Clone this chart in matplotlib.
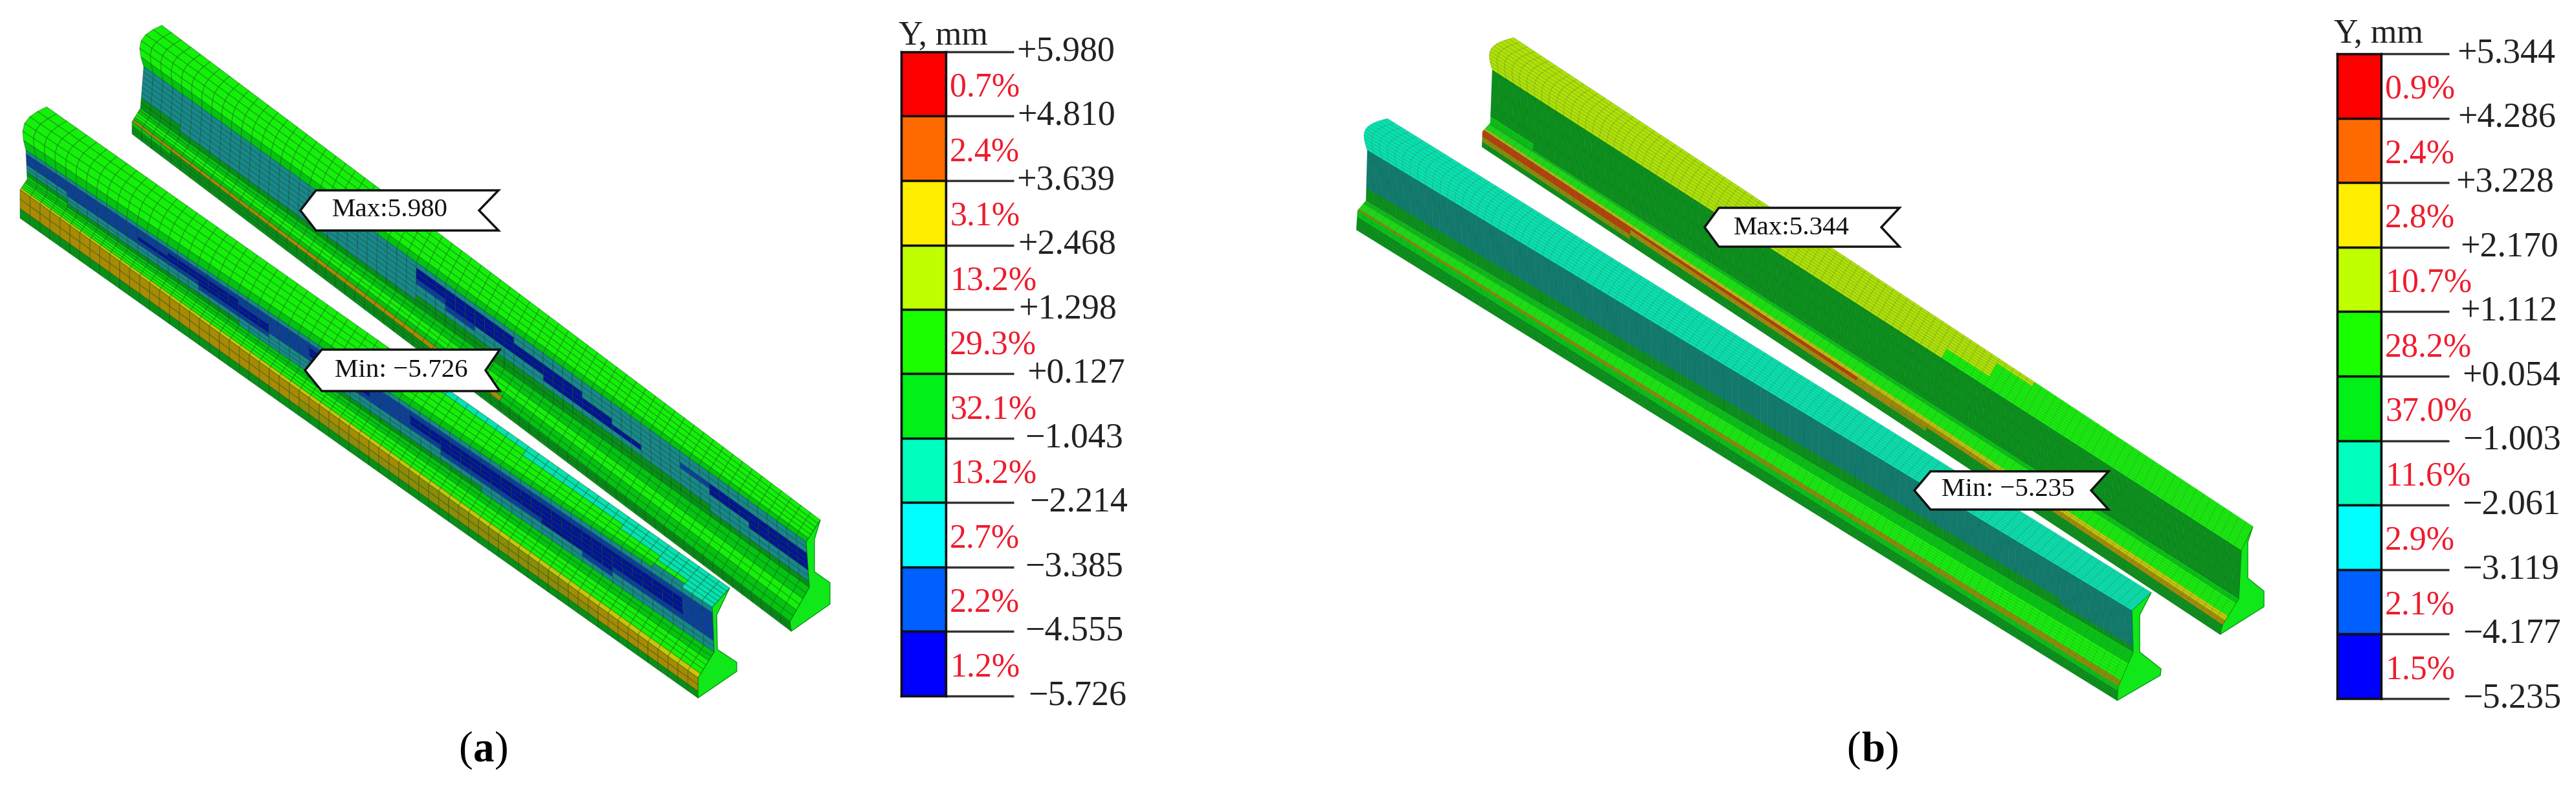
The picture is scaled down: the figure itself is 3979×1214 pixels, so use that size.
#!/usr/bin/env python3
"""Y displacement contours of two rails, panels (a) and (b), with banded legends"""

import matplotlib

matplotlib.use("Agg")

import matplotlib.pyplot as plt
import numpy as np
from matplotlib.collections import PolyCollection
from matplotlib.patches import Polygon

W, H = 3980, 1214

plt.rcParams["font.family"] = ["Liberation Serif", "DejaVu Serif"]

# legend values
LEVELS_A = [5.980, 4.810, 3.639, 2.468, 1.298, 0.127, -1.043, -2.214, -3.385, -4.555, -5.726]
PERCENT_A = ["0.7%", "2.4%", "3.1%", "13.2%", "29.3%", "32.1%", "13.2%", "2.7%", "2.2%", "1.2%"]
LEVELS_B = [5.344, 4.286, 3.228, 2.170, 1.112, 0.054, -1.003, -2.061, -3.119, -4.177, -5.235]
PERCENT_B = ["0.9%", "2.4%", "2.8%", "10.7%", "28.2%", "37.0%", "11.6%", "2.9%", "2.1%", "1.5%"]
BAND_COLORS = [
    "#ff0000", "#ff6a00", "#ffee00", "#bfff00", "#1aff00",
    "#00f018", "#00ffbf", "#00ffff", "#0060ff", "#0000ff",
]

# right edge of each level label, in pixels
LABEL_RIGHT_A = [1722, 1723, 1722, 1724, 1725, 1738, 1735, 1742, 1735, 1736, 1740]
LABEL_RIGHT_B = [3947, 3948, 3945, 3952, 3950, 3955, 3956, 3955, 3953, 3956, 3956]

# contour colours of the rail mesh
CELL_COLORS = {
    "G": "#14f00a", "M": "#04c412", "D": "#069018", "T": "#18888e", "B": "#0c3ea2",
    "N": "#021496", "C": "#06e2b2", "O": "#8c8c08", "Y": "#c4c806", "R": "#c03a04",
    "L": "#b0e204", "E": "#0c7a70", "S": "#a88a04",
}

# one string per mesh band from far head edge to rail base, one letter per 5% of length
REAR_A = [
    "GGGGGGGGGGGGGGGGGGGG", "GGGGGGGGGGGGGGGGGGGG", "GGGGGGGGGGGGGGGGGGGG",
    "GGGGGGGGGGGGGGGGGGGG", "GGGGGGGGGGGGGGGGGGGG", "MMMMMMMMMMMMMMMMMMMM",
    "TTTTTTTTTTTTTTTTTTTT", "TTTTTTTTNNNTTTTTTTTT", "TTTTTTTTNNNNNTTTBNNN",
    "TTTTTTTTBNNNNNTTTNNN", "TTTTTTTTTBTTNNNTTTNN", "TTTTTTTTTTTTTTTTTTTT",
    "DTTTTTTTDDDDDDDDDTTT", "DDDDDDDDDDDDDDDDDDDD",
    "MMMMMMMMMMMMMMMMMMMM", "MMMMMMMMMMMMMMMMMMMM", "GGGGGGGGGGGGGGGGGGGG",
    "GGGGGGGGGGGGGGGGGGGG", "MMMMMMMMMMMMMMMMMMMM", "SSSSSSSSSSSMMMMMMMMM",
    "MDDDDDDDDDDDDDDDDDDD", "DDDDDDDDDDDDDDDDDDDD", "DDDDDDDDDDDDDDDDDDDD",
]
FRONT_A = [
    "GGGGGGGGGGGCCCCCCCCC", "GGGGGGGGGGGGGGCCCCCC", "GGGGGGGGGGGGGGGGGCCC",
    "GGGGGGGGGGGGGGGGGGCC", "GGGGGGGGGGGGGGGGGGGC", "MMMMMMMMMMMMMMMMMMTC",
    "TTTTTTTTTTTTTTTTTTTT", "BBBBBBBBBBBBBBBBBBBB", "BBBBNNBBNBBNNNNNNNNB",
    "BBBNNNNBNNBNNNNNNNNB", "TBBBBNNBBBBBNNNNNNNB", "TTTTTBBTTTTTBBBNNBBB",
    "DTTTTTTTTTTTTTTTBTTT", "MDDDDDTTTDDDDTTTTTTT",
    "MMMMMMMMMMMMMMMMMMMM", "MMMMMMMMMMMMMMMMMMMM", "GGGGGGGGGGGGGGGGGGGG",
    "GGGGGGGGGGGGGGGGGGGG", "GGGGGGGGGGGGGGGGGGGG", "YYYYYYYYYYYYYYYYYYYY",
    "SSSSSSSSSSSOOOOOSSSS", "SSSSSSSSOOOOOOOOOSSS", "DDDDDDDDDDDDDDDDDDDD",
]
REAR_B = [
    "LLLLLLLLLLLLLLGGGGGG", "LLLLLLLLLLLLLGGGGGGG", "LLLLLLLLLLLLLGGGGGGG",
    "LLLLLLLLLLLLLGGGGGGG", "LLLLLLLLLLLLGGGGGGGG", "LLLLLLLLLLLLGGGGGGGG",
    "DDDDDDDDDDDDDDDDDDDD", "DDDDDDDDDDDDDDDDDDDD", "DDDDDDDDDDDDDDDDDDDD",
    "DDDDDDDDDDDDDDDDDDDD", "DDDDDDDDDDDDDDDDDDDD", "DDDDDDDDDDDDDDDDDDDD",
    "DDDDDDDDDDDDDDDDDDDD", "MDDDDDDDDDDDDDDDDDDD",
    "MMMMMMMMMMMMMMMMMMMM", "GGGGGGGGGGGGGGGGGGGG", "GGGGGGGGGGGGGGGGGGGG",
    "GGGGGGGGGGGGGGGGGGGG", "YYYYYYYYYYYYYYYYYYYY", "RRRRRRRRRRSSSSSSSSSS",
    "RRRRSSSSSSSODDDDDDDD", "OOOODDDDDDDDDDDDDDDD", "DDDDDDDDDDDDDDDDDDDD",
]
FRONT_B = [
    "CCCCCCCCCCCCCCCCCCCC", "CCCCCCCCCCCCCCCCCCCC", "CCCCCCCCCCCCCCCCCCCC",
    "CCCCCCCCCCCCCCCCCCCC", "CCCCCCCCCCCCCCCCCCCC", "CCCCCCCCCCCCCCCCCCCC",
    "EEEEEEEEEEEEEEEEEEEE", "EEEEEEEEEEEEEEEEEEEE", "EEEEEEEEEEEEEEEEEEEE",
    "EEEEEEEEEEEEEEEEEEEE", "EEEEEEEEEEEEEEEEEEEE", "EEEEEEEEEEEEEEEEEEEE",
    "DDDDDDDDDDDDDDDDDDEE", "DDDDDDDDDDDDDDDDDDDD",
    "MMMMMMMMMMMMMMMMMMMM", "MMMMMMMMMMMMMMMMMMMM", "GGGGGGGGGGGGGGGGGGGG",
    "GGGGGGGGGGGGGGGGGGGG", "GGGGGGGGGGGGGGGGGGGG", "OOOOOOOOOOOOOOOOOOOO",
    "MMMMMMMMMMMMMMMMMMMM", "DDDDDDDDDDDDDDDDDDDD", "DDDDDDDDDDDDDDDDDDDD",
]

# key lines (back end, front end) in pixels: far head edge, head/web, web/fillet, foot top, base
REAR_A_LINES = [((250, 39), (1267, 803)), ((222, 103), (1245, 837)), ((217, 167), (1250, 907)),
                ((204, 188), (1220, 960)), ((204, 207), (1222, 975))]
FRONT_A_LINES = [((72, 165), (1127, 908)), ((40, 232), (1100, 938)), ((42, 277), (1103, 1007)),
                 ((31, 293), (1078, 1047)), ((31, 337), (1078, 1078))]
REAR_B_LINES = [((2338, 58), (3480, 813)), ((2305, 108), (3462, 850)), ((2302, 190), (3458, 925)),
                ((2290, 203), (3433, 965)), ((2289, 227), (3429, 980))]
FRONT_B_LINES = [((2143, 183), (3323, 915)), ((2112, 232), (3293, 943)), ((2110, 310), (3295, 1007)),
                 ((2097, 325), (3272, 1060)), ((2095, 355), (3270, 1082))]
BAND_COUNTS = [6, 8, 6, 3]

# visible end faces
CAP_REAR_A = [(1245, 837), (1267, 803), (1258, 833), (1258, 883), (1282, 900), (1282, 933),
              (1222, 975), (1220, 960), (1250, 907)]
CAP_FRONT_A = [(1100, 938), (1127, 908), (1107, 950), (1108, 1003), (1138, 1023), (1138, 1037),
               (1078, 1078), (1078, 1047), (1103, 1007)]
CAP_REAR_B = [(3462, 850), (3480, 813), (3472, 837), (3472, 893), (3497, 913), (3497, 937),
              (3429, 980), (3433, 965), (3458, 925)]
CAP_FRONT_B = [(3293, 943), (3323, 915), (3305, 950), (3305, 1007), (3338, 1033), (3337, 1043),
               (3270, 1082), (3272, 1060), (3295, 1007)]

# callouts: text, text centre, tip x, notch x, left x, right x, top y, bottom y
CALLOUTS = [
    ("Max:5.980", (602, 325), 464, 740, 488, 770, 294, 356),
    ("Min: \u22125.726", (620, 572), 471, 750, 497, 772, 540, 604),
    ("Max:5.344", (2767, 352), 2633, 2906, 2655, 2934, 321, 381),
    ("Min: \u22125.235", (3102, 757), 2957, 3230, 2982, 3257, 728, 787),
]


def px(size_px):
    """Font size in points for a size in pixels at dpi 100"""
    return size_px * 0.72


def draw_rail(ax, lines, bands, n_along, split, lw, edge_alpha):
    """Draw one rail as a shaded quad mesh between its key lines"""
    lines = np.array(lines, dtype=float)
    t = np.linspace(0, 1, n_along + 1)
    rows = []
    for i, count in enumerate(BAND_COUNTS):
        sub = count * split
        for k in range(sub + (i == len(BAND_COUNTS) - 1)):
            s = k / sub
            top = lines[i, 0] + np.outer(t, lines[i, 1] - lines[i, 0])
            bottom = lines[i + 1, 0] + np.outer(t, lines[i + 1, 1] - lines[i + 1, 0])
            row = top + (bottom - top) * s
            if i == 0:
                # rounded head seen at the back end
                row = row + np.outer(np.sin(np.pi * s) * (1 - t) ** 6, [-18, -8])
            rows.append(row)
    grid = np.array(rows)

    cells, colors = [], []
    for r in range(grid.shape[0] - 1):
        for c in range(n_along):
            cells.append([grid[r, c], grid[r, c + 1], grid[r + 1, c + 1], grid[r + 1, c]])
            code = bands[r // split][min(int(20 * c / n_along), 19)]
            colors.append(CELL_COLORS[code])
    mesh = PolyCollection(
        cells, facecolors=colors, edgecolors=(0, 0.22, 0, edge_alpha), linewidths=lw, zorder=2
    )
    ax.add_collection(mesh)


def draw_cap(ax, points, color):
    ax.add_patch(Polygon(points, closed=True, facecolor=color, edgecolor="#0a9a14", linewidth=1, zorder=2))


def draw_legend(fig, levels, percents, left, right, top, bottom, label_right, title_x, title_y):
    """Banded legend with its own value axis"""
    cax = fig.add_axes([left / W, 1 - bottom / H, (right - left) / W, (bottom - top) / H])
    for i, color in enumerate(BAND_COLORS):
        cax.bar(0.5, levels[i] - levels[i + 1], bottom=levels[i + 1], width=1, color=color,
                edgecolor="#101010", linewidth=2.5)
    cax.set_xlim(0, 1)
    cax.set_ylim(levels[-1], levels[0])
    cax.set_xticks([])
    cax.yaxis.tick_right()
    cax.set_yticks(levels, labels=[])
    cax.tick_params(axis="y", length=px(105), width=2.5, color="#333333")
    for spine in cax.spines.values():
        spine.set_linewidth(2.5)
        spine.set_color("#101010")

    width = right - left
    for value, xr in zip(levels, label_right):
        text = f"{value:+.3f}".replace("-", "\u2212")
        cax.text((xr - left) / width, value, text, transform=cax.get_yaxis_transform(),
                 ha="right", va="center", fontsize=px(54), color="#222222", clip_on=False)
    step = (levels[0] - levels[-1]) / 10
    for i, label in enumerate(percents):
        mid = (levels[i] + levels[i + 1]) / 2 - 0.06 * step
        cax.text((right + 6 - left) / width, mid, label, transform=cax.get_yaxis_transform(),
                 ha="left", va="center", fontsize=px(52), color="#ee1c2e", clip_on=False)
    fig.text(title_x / W, 1 - title_y / H, "Y, mm", ha="left", va="baseline",
             fontsize=px(52), color="#222222")


def draw_callout(ax, label, center, tip, notch, x0, x1, y0, y1):
    ymid = (y0 + y1) / 2
    shape = [(tip, ymid), (x0, y0), (x1, y0), (notch, ymid), (x1, y1), (x0, y1)]
    ax.add_patch(Polygon(shape, closed=True, facecolor="white", edgecolor="#111111", linewidth=2.5, zorder=5))
    ax.text(center[0], center[1], label, ha="center", va="center", fontsize=px(41), color="#111111", zorder=6)


def draw_caption(ax, letter, x, half):
    y = 1175
    ax.text(x - half, y, "(", ha="right", va="baseline", fontsize=px(65), color="black")
    ax.text(x, y, letter, ha="center", va="baseline", fontsize=px(65), fontweight="bold", color="black")
    ax.text(x + half, y, ")", ha="left", va="baseline", fontsize=px(65), color="black")


def main():
    fig = plt.figure(figsize=(W / 100, H / 100), dpi=100, facecolor="white")
    ax = fig.add_axes([0, 0, 1, 1])
    ax.set_xlim(0, W)
    ax.set_ylim(H, 0)
    ax.axis("off")

    draw_cap(ax, CAP_REAR_A, "#10e81a")
    draw_rail(ax, REAR_A_LINES, REAR_A, 68, 1, 1.0, 0.3)
    draw_cap(ax, CAP_FRONT_A, "#10e81a")
    draw_rail(ax, FRONT_A_LINES, FRONT_A, 68, 1, 1.0, 0.3)

    draw_cap(ax, CAP_REAR_B, "#10e81a")
    draw_rail(ax, REAR_B_LINES, REAR_B, 105, 2, 0.7, 0.18)
    draw_cap(ax, CAP_FRONT_B, "#10e81a")
    draw_rail(ax, FRONT_B_LINES, FRONT_B, 105, 2, 0.7, 0.18)

    for label, center, tip, notch, x0, x1, y0, y1 in CALLOUTS:
        draw_callout(ax, label, center, tip, notch, x0, x1, y0, y1)

    draw_caption(ax, "a", 747, 17)
    draw_caption(ax, "b", 2893, 19)

    draw_legend(fig, LEVELS_A, PERCENT_A, 1392, 1461, 80, 1075, LABEL_RIGHT_A, 1388, 68)
    draw_legend(fig, LEVELS_B, PERCENT_B, 3610, 3678, 83, 1079, LABEL_RIGHT_B, 3605, 65)

    fig.savefig("out.png", dpi=100)
    plt.close(fig)


if __name__ == "__main__":
    main()
